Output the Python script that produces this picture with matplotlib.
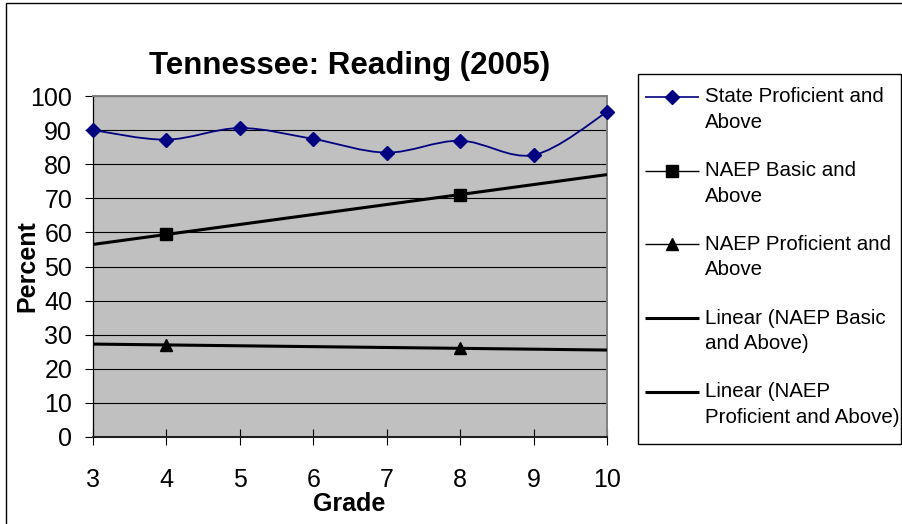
import numpy as np
import matplotlib
matplotlib.use('Agg')
import matplotlib.pyplot as plt
from matplotlib.path import Path
from matplotlib.patches import PathPatch, Rectangle

plt.rcParams['font.family'] = ['Liberation Sans', 'DejaVu Sans']

# ---------------- data ----------------
grades = [3, 4, 5, 6, 7, 8, 9, 10]
state_prof = [90.0, 87.2, 90.6, 87.4, 83.4, 86.9, 82.7, 95.3]
naep_grades = [4, 8]
naep_basic = [59.4, 71.1]
naep_prof = [27.0, 26.0]
yticks = list(range(0, 101, 10))
title = 'Tennessee: Reading (2005)'
xlabel = 'Grade'
ylabel = 'Percent'
legend_labels = ['State Proficient and\nAbove',
                 'NAEP Basic and\nAbove',
                 'NAEP Proficient and\nAbove',
                 'Linear (NAEP Basic\nand Above)',
                 'Linear (NAEP\nProficient and Above)']

W, H = 902, 524
fig = plt.figure(figsize=(W / 100, H / 100), dpi=100)
fig.patch.set_facecolor('white')

ax = fig.add_axes([93 / W, (H - 437) / H, 514 / W, 341 / H])
ax.set_facecolor('#C0C0C0')
ax.set_xlim(min(grades), max(grades))
ax.set_ylim(0, 100)


def smooth_path(x, y):
    x = np.asarray(x, float)
    y = np.asarray(y, float)
    n = len(x)
    verts = [(x[0], y[0])]
    codes = [Path.MOVETO]
    for i in range(n - 1):
        p0 = np.array([x[max(i - 1, 0)], y[max(i - 1, 0)]])
        p1 = np.array([x[i], y[i]])
        p2 = np.array([x[i + 1], y[i + 1]])
        p3 = np.array([x[min(i + 2, n - 1)], y[min(i + 2, n - 1)]])
        c1 = p1 + (p2 - p0) / 6
        c2 = p2 - (p3 - p1) / 6
        verts += [tuple(c1), tuple(c2), tuple(p2)]
        codes += [Path.CURVE4] * 3
    return Path(verts, codes)


navy = '#000080'
ax.add_patch(PathPatch(smooth_path(grades, state_prof), facecolor='none',
                       edgecolor=navy, lw=1.3, zorder=3))
ax.plot(grades, state_prof, linestyle='none', marker='D', ms=7.4,
        color=navy, zorder=4, clip_on=False)

# NAEP series (lines hidden under trend lines)
ax.plot(naep_grades, naep_basic, color='black', lw=1, marker='s', ms=8.5, zorder=4)
ax.plot(naep_grades, naep_prof, color='black', lw=1, marker='^', ms=8.5, zorder=4)

# linear trend lines
xt = np.array([min(grades), max(grades)], float)
for series in (naep_basic, naep_prof):
    m, b = np.polyfit(naep_grades, series, 1)
    ax.plot(xt, m * xt + b, color='black', lw=2.2, zorder=3, solid_capstyle='butt')

ax.set_yticks(yticks)
ax.set_xticks(grades)
ax.yaxis.grid(True, color='black', lw=0.8)
ax.set_axisbelow(True)
ax.tick_params(axis='y', direction='out', length=6, width=0.8, pad=9,
               labelsize=18, colors='black')
ax.tick_params(axis='x', direction='inout', length=12, width=0.8, pad=16,
               labelsize=18, colors='black')
for s in ('top', 'right'):
    ax.spines[s].set_color('#808080')
    ax.spines[s].set_linewidth(1.4)
ax.spines['left'].set_color('black')
ax.spines['left'].set_linewidth(0.9)
ax.spines['bottom'].set_color('#202020')
ax.spines['bottom'].set_linewidth(1.5)

# ---------------- overlay (title, labels, frame, legend) ----------------
ov = fig.add_axes([0, 0, 1, 1])
ov.set_xlim(0, W)
ov.set_ylim(H, 0)
ov.axis('off')

ov.add_patch(Rectangle((6, 3), 2000, 2000, facecolor='none',
                       edgecolor='black', lw=1.0, clip_on=False))
ov.text(350, 74, title, ha='center', va='baseline', fontsize=22.5,
        fontweight='bold')
ov.text(349, 504, xlabel, ha='center', va='center', fontsize=18,
        fontweight='bold')
ov.text(27, 266, ylabel, ha='center', va='center', rotation=90,
        fontsize=18, fontweight='bold')

ov.add_patch(Rectangle((638, 74), 263, 370, facecolor='white',
                       edgecolor='black', lw=1.0))

styles = [dict(color=navy, lw=1.2, marker='D', ms=7.4),
          dict(color='black', lw=1.0, marker='s', ms=8),
          dict(color='black', lw=1.0, marker='^', ms=8.5),
          dict(color='black', lw=2.2),
          dict(color='black', lw=2.2)]
y0 = 97
step = 73.7
for i, (lab, st) in enumerate(zip(legend_labels, styles)):
    yy = y0 + i * step
    st = dict(st)
    mk = st.pop('marker', None)
    ms = st.pop('ms', None)
    ov.plot([645, 699], [yy, yy], solid_capstyle='butt', **st)
    if mk:
        ov.plot([672], [yy], linestyle='none', marker=mk, ms=ms, color=st['color'])
    for j, line in enumerate(lab.split('\n')):
        ov.text(705, yy + j * 25.5, line, ha='left', va='center', fontsize=14.8)

fig.savefig('out.png', dpi=100)
